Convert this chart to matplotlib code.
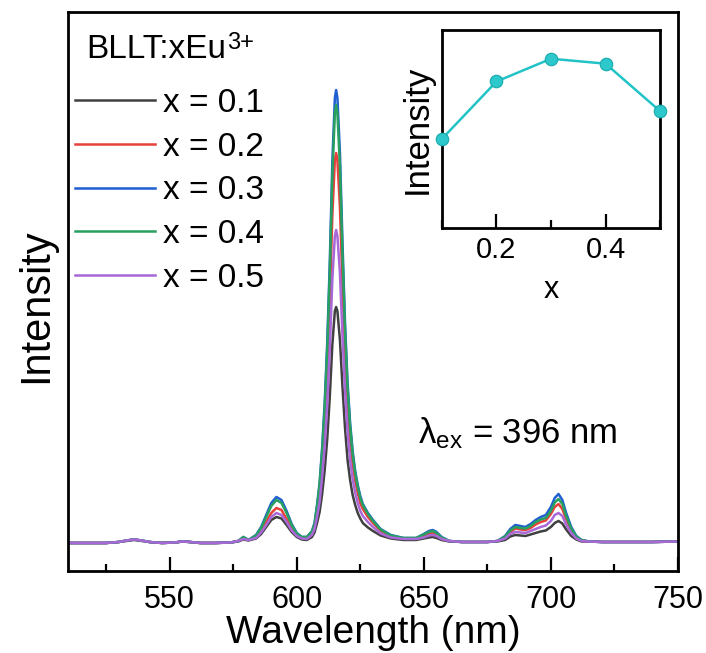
#!/usr/bin/python3
#
# plot.py: espectros de emissao BLLT:xEu3+ (exc. 396 nm) com inset de intensidade vs x.

import matplotlib
matplotlib.use("Agg")
import matplotlib.pyplot as plt
from matplotlib.ticker import MultipleLocator

plt.rcParams.update({
    "font.family": ["Liberation Sans", "DejaVu Sans"],
    "mathtext.fontset": "custom",
    "mathtext.rm": "Liberation Sans",
    "mathtext.it": "Liberation Sans:italic",
    "axes.linewidth": 2.0,
})

# --- dados (intensidade em u.a., linha de base = 0) ---
wl = [510, 515, 520, 525, 530, 533, 536, 539, 542, 547, 552, 555, 558, 562, 568,
      574, 577, 579, 581, 584, 586, 588, 590, 592, 594, 596, 598, 600, 602, 604,
      606, 607, 608, 609, 610, 611, 612, 613, 614, 615, 615.5, 616, 617, 618, 619,
      620, 621, 622, 623, 624, 625, 626, 628, 630, 633, 637, 642, 647, 650, 652,
      653.5, 655, 657, 660, 665, 670, 675, 679, 682, 684, 686, 688, 690, 692, 694,
      696, 698, 700, 701.5, 703, 704.5, 706, 708, 710, 712, 715, 720, 730, 740, 750]

i_01 = [0, 0, 0, 0, 1, 2, 3, 2, 1, 0, 0.5, 1.5, 1, 0, 0,
        0.5, 1.5, 3.5, 2.5, 4.5, 9, 16, 23, 26, 24.5, 18, 11, 6, 3.5, 3,
        6, 10.5, 20, 31, 49, 73, 104, 146, 198, 232, 236, 232, 203, 156, 115,
        83, 63, 48, 38, 30, 24.5, 20, 15.5, 12, 7.5, 4.5, 3, 3, 4.5, 5.5,
        6, 5, 3, 1.5, 1, 1, 1, 1.5, 3, 6.5, 8, 7.5, 7, 8.5, 10,
        11.5, 12.5, 16, 20, 22, 19.5, 13.5, 7, 3.5, 1.5, 1.5, 1, 1, 1, 1.5]

i_02 = [0, 0, 0, 0, 1, 2.5, 3.5, 2.5, 1, 0, 0.5, 1.5, 1, 0, 0,
        0.5, 2, 4.5, 3, 6, 12, 21, 30, 35, 33, 24, 14.5, 8, 5, 5,
        10, 17, 33, 52, 82, 121, 172, 241, 327, 383, 390, 383, 336, 258, 189,
        138, 103, 79, 62, 50, 40, 34, 26, 20, 12, 7, 4.5, 4.5, 7, 9,
        10, 8.5, 5, 2, 1, 1, 1, 2, 5.5, 11, 14.5, 13.5, 13, 15, 18.5,
        21, 22.5, 29, 36, 39, 34, 24, 13, 5.5, 2.5, 1.5, 1, 1, 1, 1.5]

i_03 = [0, 0, 0, 0, 1, 2.5, 3.5, 2.5, 1, 0, 0.5, 1.5, 1, 0, 0,
        0.5, 2, 6, 3, 8, 16, 28, 40, 46, 43, 32, 19, 10, 6, 6,
        12, 20, 38, 60, 95, 140, 200, 280, 380, 445, 453, 445, 390, 300, 220,
        160, 120, 92, 72, 58, 47, 39, 30, 23, 14, 8, 5, 5, 9, 12,
        13, 11, 6, 2, 1, 1, 1, 2, 7, 14, 18, 17, 16, 19, 23,
        26, 28, 36, 45, 49, 43, 30, 16, 7, 3, 1.5, 1, 1, 1, 1.5]

i_04 = [0, 0, 0, 0, 1, 2.5, 3.5, 2.5, 1, 0, 0.5, 1.5, 1, 0, 0,
        0.5, 2, 6, 3, 7.5, 15, 26, 37, 43, 40, 30, 18, 9.5, 6, 6,
        11.5, 19, 37, 58, 92, 135, 193, 271, 367, 430, 438, 430, 377, 290, 213,
        155, 116, 89, 70, 56, 45, 38, 29, 22, 13.5, 7.5, 5, 5, 8.5, 11,
        12, 10, 5.5, 2, 1, 1, 1, 2, 6.5, 12.5, 16, 15, 14.5, 17, 21,
        23.5, 25, 32, 40.5, 44, 39, 27, 14.5, 6.5, 3, 1.5, 1, 1, 1, 1.5]

i_05 = [0, 0, 0, 0, 1, 2.5, 3.5, 2.5, 1, 0, 0.5, 1.5, 1, 0, 0,
        0.5, 2, 4, 3, 5, 10.5, 18, 26, 30, 28, 21, 12.5, 7, 4.5, 4,
        8, 14, 26, 41, 66, 97, 138, 193, 263, 307, 313, 307, 270, 207, 152,
        111, 83, 64, 50, 40, 32, 27, 21, 16, 9.5, 5.5, 4, 4, 5.5, 7.5,
        8, 7, 4, 2, 1, 1, 1, 2, 4.5, 9, 11, 10.5, 10, 12, 14,
        16, 17.5, 22, 28, 30, 27, 18.5, 10, 4.5, 2, 1.5, 1, 1, 1, 1.5]

series = [i_01, i_02, i_03, i_04, i_05]
labels = ["x = 0.1", "x = 0.2", "x = 0.3", "x = 0.4", "x = 0.5"]
colors = ["#404040", "#e8403a", "#1f5fd0", "#27a060", "#a968d8"]

# inset: intensidade integrada vs concentracao
x_conc = [0.1, 0.2, 0.3, 0.4, 0.5]
i_conc = [0.45, 0.74, 0.855, 0.83, 0.59]

fig = plt.figure(figsize=(7.06, 6.53), dpi=100)
ax = fig.add_axes([0.0963, 0.1256, 0.864, 0.856])

for y, lab, c in zip(series, labels, colors):
    ax.plot(wl, y, color=c, lw=1.8, label=lab)

ax.set_xlim(510, 750)
ax.set_ylim(-28, 531)
ax.xaxis.set_major_locator(MultipleLocator(50))
ax.xaxis.set_minor_locator(MultipleLocator(25))
ax.set_yticks([])
ax.tick_params(axis="x", which="major", direction="in", length=10, width=1.6,
               labelsize=22, pad=10)
ax.tick_params(axis="x", which="minor", direction="in", length=5, width=1.6)
ax.set_xlabel("Wavelength (nm)", fontsize=28, labelpad=0)
ax.set_ylabel("Intensity", fontsize=30)
ax.yaxis.set_label_coords(-0.02, 0.475)

t = ax.text(0.03, 0.918, "BLLT:xEu", transform=ax.transAxes,
            fontsize=24, va="baseline", ha="left")
ax.annotate("3+", xy=(1, 1), xycoords=t, xytext=(0.5, 1.5),
            textcoords="offset points", fontsize=17, va="top", ha="left")
ax.text(0.574, 0.228, r"λ$_{\rm ex}$ = 396 nm", transform=ax.transAxes,
        fontsize=25, va="baseline", ha="left")

ax.legend(loc="upper left", bbox_to_anchor=(0.011, 0.864), frameon=False,
          fontsize=24, handlelength=2.4, handletextpad=0.25, labelspacing=0.38,
          borderaxespad=0, borderpad=0)

# --- inset ---
ins = fig.add_axes([0.626, 0.651, 0.309, 0.303])
ins.plot(x_conc, i_conc, color="#22c3c6", lw=1.8, marker="o", ms=9,
         markerfacecolor="#2cc8cb", markeredgecolor="#1aa9ac", mew=0.8,
         clip_on=False, zorder=3)
ins.set_xlim(0.1, 0.5)
ins.set_ylim(0, 1)
ins.set_yticks([])
ins.set_xticks([0.2, 0.4])
ins.set_xticklabels(["0.2", "0.4"])
ins.xaxis.set_minor_locator(MultipleLocator(0.1))
ins.tick_params(axis="x", which="major", direction="in", length=10, width=1.6,
                labelsize=21, pad=6)
ins.tick_params(axis="x", which="minor", direction="in", length=6, width=1.6)
ins.set_xlabel("x", fontsize=22, labelpad=8)
ins.set_ylabel("Intensity", fontsize=25, labelpad=6)
for s in ins.spines.values():
    s.set_linewidth(2.0)

fig.savefig("out.png", dpi=100)
